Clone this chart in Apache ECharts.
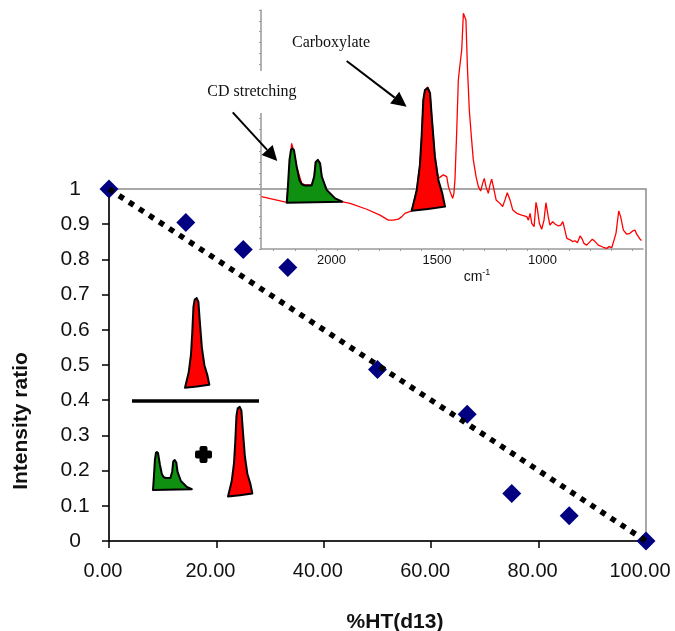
<!DOCTYPE html>
<html>
<head>
<meta charset="utf-8">
<script src="https://cdn.jsdelivr.net/npm/echarts@6/dist/echarts.min.js"></script>
<style>
  html, body { margin: 0; padding: 0; background: #fff; }
  #chart { width: 675px; height: 631px; }
</style>
</head>
<body>
<div id="chart"></div>
<script>
// ---- Main panel: intensity ratio vs %HT(d13) ----
const htPercent      = [0, 14.3, 25, 33.3, 50, 66.7, 75, 85.7, 100];
const intensityRatio = [1, 0.905, 0.828, 0.777, 0.487, 0.36, 0.135, 0.072, 0];
const trendX = [0, 100];
const trendY = [1, 0];
const mainXTicks = [0, 20, 40, 60, 80, 100];
const mainYTicks = [0, 0.1, 0.2, 0.3, 0.4, 0.5, 0.6, 0.7, 0.8, 0.9, 1];

// ---- Inset: IR spectrum (wavenumber in cm-1, absorbance in arbitrary units) ----
const specWn = [2358, 2238, 2227, 2215, 2206, 2191, 2167, 2152, 2120, 2108, 2101, 2091, 2080, 2072, 2049, 2009,
  1978, 1938, 1859, 1796, 1757, 1733, 1709, 1693, 1678, 1646, 1622, 1607, 1599, 1591, 1583, 1570, 1559, 1551,
  1536, 1520, 1512, 1496, 1480, 1472, 1464, 1452, 1446, 1441, 1433, 1425, 1420, 1414, 1409, 1401, 1397, 1389,
  1382, 1373, 1362, 1354, 1341, 1330, 1319, 1310, 1302, 1294, 1283, 1275, 1267, 1259, 1246, 1228, 1215, 1204,
  1193, 1180, 1167, 1148, 1125, 1101, 1093, 1085, 1077, 1066, 1057, 1051, 1041, 1030, 1019, 1010, 999, 991,
  978, 967, 951, 940, 930, 924, 911, 893, 883, 872, 861, 848, 840, 830, 817, 801, 790, 777, 762, 738, 722,
  710, 698, 691, 678, 665, 656, 643, 627, 612, 599, 588, 580, 564, 557];
const specAbs = [0.241, 0.215, 0.341, 0.486, 0.456, 0.379, 0.302, 0.295, 0.295, 0.333, 0.402, 0.410, 0.394, 0.333, 0.272, 0.233,
  0.218, 0.210, 0.183, 0.156, 0.133, 0.133, 0.137, 0.149, 0.164, 0.175, 0.272, 0.387, 0.517, 0.686, 0.732, 0.746, 0.717, 0.609,
  0.425, 0.325, 0.325, 0.341, 0.333, 0.287, 0.264, 0.233, 0.256, 0.318, 0.532, 0.778, 0.824, 0.819, 0.916, 1.085, 1.092, 1.054,
  0.839, 0.640, 0.502, 0.410, 0.333, 0.287, 0.267, 0.302, 0.325, 0.287, 0.256, 0.295, 0.321, 0.287, 0.226, 0.210, 0.195, 0.226,
  0.259, 0.226, 0.179, 0.164, 0.156, 0.149, 0.133, 0.164, 0.118, 0.103, 0.215, 0.187, 0.118, 0.091, 0.133, 0.213, 0.149, 0.110,
  0.126, 0.115, 0.106, 0.110, 0.126, 0.103, 0.049, 0.041, 0.034, 0.038, 0.029, 0.060, 0.049, 0.026, 0.018, 0.034, 0.045, 0.034,
  0.018, 0.008, 0.003, 0.011, 0.006, 0.014, 0.072, 0.175, 0.149, 0.087, 0.068, 0.072, 0.083, 0.087, 0.068, 0.045, 0.039];

// C-D stretching band outline (green)
const cdBandWn  = [2238, 2232, 2225, 2218, 2212, 2204, 2191, 2178, 2167, 2152, 2120, 2108, 2101, 2091, 2080, 2072, 2049, 2009, 1975];
const cdBandAbs = [0.213, 0.295, 0.410, 0.456, 0.463, 0.456, 0.379, 0.318, 0.298, 0.292, 0.292, 0.333, 0.400, 0.410, 0.394, 0.333, 0.272, 0.233, 0.218];
// Carboxylate band outline (red)
const coBandWn  = [1646, 1622, 1607, 1599, 1591, 1583, 1570, 1559, 1551, 1536, 1520, 1501, 1488, 1569];
const coBandAbs = [0.176, 0.272, 0.387, 0.517, 0.686, 0.732, 0.741, 0.717, 0.609, 0.425, 0.318, 0.256, 0.195, 0.184];

const insetLabelWn = [2000, 1500, 1000];
const insetTickWn  = [600, 700, 800, 900, 1000, 1100, 1200, 1300, 1400, 1500, 1600, 1700, 1800, 1900, 2000, 2100, 2200, 2300];

const SANS = "'Liberation Sans', Arial, Helvetica, sans-serif";
const SERIF = "'Liberation Serif', 'Times New Roman', serif";

const bands = [
  { wn: cdBandWn, abs: cdBandAbs, fill: '#109010' },
  { wn: coBandWn, abs: coBandAbs, fill: '#ff0000' }
];

const chart = echarts.init(document.getElementById('chart'), null, { renderer: 'canvas' });

const option = {
  backgroundColor: '#ffffff',
  animation: false,
  grid: [
    { left: 109, right: 29, top: 189, bottom: 90, outerBoundsMode: 'none', containLabel: false,
      show: true, borderColor: '#8c8c8c', borderWidth: 1.5, backgroundColor: 'transparent' },
    { left: 261, right: 32, top: 10, bottom: 382, outerBoundsMode: 'none', containLabel: false, show: false }
  ],
  xAxis: [
    {
      type: 'value', gridIndex: 0, min: 0, max: 100, interval: 20,
      axisLine: { show: true, onZero: false, lineStyle: { color: '#000', width: 1.5 } },
      axisTick: { show: true, length: 7, lineStyle: { color: '#000', width: 1.5 } },
      axisLabel: { fontFamily: SANS, fontSize: 20, color: '#111', margin: 20, padding: [0, 12, 0, 0],
        formatter: v => v.toFixed(2) },
      splitLine: { show: false },
      name: '%HT(d13)', nameLocation: 'middle', nameGap: 71,
      nameTextStyle: { fontFamily: SANS, fontSize: 21, fontWeight: 'bold', color: '#111', padding: [0, 0, 0, 35] }
    },
    {
      type: 'value', gridIndex: 1, inverse: true, min: 550, max: 2360,
      axisLine: { show: true, onZero: false, lineStyle: { color: '#9a9a9a', width: 1.5 } },
      axisTick: { show: true, length: 2, customValues: insetTickWn, lineStyle: { color: '#9a9a9a', width: 1 } },
      axisLabel: { fontFamily: SANS, fontSize: 13, color: '#111', margin: 5, padding: [0, 11, 0, 0],
        customValues: insetLabelWn, formatter: v => String(v) },
      splitLine: { show: false },
      name: '{a|cm}{b|-1}', nameLocation: 'middle', nameGap: 17,
      nameTextStyle: {
        padding: [0, 0, 0, 50],
        rich: {
          a: { fontFamily: SANS, fontSize: 14, color: '#111', verticalAlign: 'bottom', lineHeight: 16 },
          b: { fontFamily: SANS, fontSize: 9, color: '#111', verticalAlign: 'top', lineHeight: 16 }
        }
      }
    }
  ],
  yAxis: [
    {
      type: 'value', gridIndex: 0, min: 0, max: 1, interval: 0.1,
      axisLine: { show: true, onZero: false, lineStyle: { color: '#000', width: 1.5 } },
      axisTick: { show: true, length: 7, lineStyle: { color: '#000', width: 1.5 } },
      axisLabel: { fontFamily: SANS, fontSize: 21, color: '#111', margin: 34, align: 'center',
        formatter: v => String(Math.round(v * 10) / 10) },
      splitLine: { show: false },
      name: 'Intensity ratio', nameLocation: 'middle', nameGap: 77,
      nameTextStyle: { fontFamily: SANS, fontSize: 21, fontWeight: 'bold', color: '#111', padding: [0, 112, 0, 0] }
    },
    {
      type: 'value', gridIndex: 1, min: 0, max: 1.1, interval: 0.05,
      axisLine: { show: true, onZero: false, lineStyle: { color: '#9a9a9a', width: 1.5 } },
      axisTick: { show: true, length: 2, lineStyle: { color: '#9a9a9a', width: 1 } },
      axisLabel: { show: false },
      splitLine: { show: false }
    }
  ],
  series: [
    {
      name: 'Intensity ratio', type: 'scatter', xAxisIndex: 0, yAxisIndex: 0, z: 3,
      symbol: 'diamond', symbolSize: 19,
      itemStyle: { color: '#000080', opacity: 1 },
      data: htPercent.map((x, i) => [x, intensityRatio[i]])
    },
    {
      name: 'Trend', type: 'line', xAxisIndex: 0, yAxisIndex: 0, z: 4,
      symbol: 'none', silent: true,
      lineStyle: { color: '#000', width: 5.5, type: [5.5, 6.5] },
      data: trendX.map((x, i) => [x, trendY[i]])
    },
    {
      name: 'Spectrum', type: 'line', xAxisIndex: 1, yAxisIndex: 1, z: 6,
      symbol: 'none', smooth: false,
      lineStyle: { color: '#ff0000', width: 1.3 },
      data: specWn.map((w, i) => [w, specAbs[i]])
    },
    {
      name: 'Bands', type: 'custom', xAxisIndex: 1, yAxisIndex: 1, z: 7, clip: false,
      data: bands.map(b => [b.wn[0], b.abs[0]]),
      renderItem: (params, api) => {
        const b = bands[params.dataIndex];
        const pts = b.wn.map((w, i) => api.coord([w, b.abs[i]]));
        return {
          type: 'polygon',
          shape: { points: pts },
          style: { fill: b.fill, stroke: '#000', lineWidth: 2, lineJoin: 'round' }
        };
      }
    }
  ]
};

chart.setOption(option);

// ---- Annotations placed in axis units, converted to pixels ----
const toInset = p => chart.convertToPixel({ gridIndex: 1 }, p);
const toMain = p => chart.convertToPixel({ gridIndex: 0 }, p);

function arrow(from, to) {
  const s = toInset(from), t = toInset(to);
  const dx = t[0] - s[0], dy = t[1] - s[1];
  const len = Math.hypot(dx, dy);
  const ux = dx / len, uy = dy / len;
  const headLen = 15, headHalf = 7.5;
  const bx = t[0] - ux * headLen, by = t[1] - uy * headLen;
  return [
    { type: 'line', z: 20, shape: { x1: s[0], y1: s[1], x2: bx, y2: by }, style: { stroke: '#000', lineWidth: 2 } },
    { type: 'polygon', z: 20, shape: { points: [[t[0], t[1]], [bx - uy * headHalf, by + ux * headHalf], [bx + uy * headHalf, by - ux * headHalf]] },
      style: { fill: '#000' } }
  ];
}

function glyph(band, anchor, scale) {
  const pts = band.wn.map((w, i) => toInset([w, band.abs[i]]));
  const minX = Math.min(...pts.map(p => p[0]));
  const minY = Math.min(...pts.map(p => p[1]));
  const local = pts.map(p => [p[0] - minX, p[1] - minY]);
  const pos = toMain(anchor);
  return {
    type: 'polygon', z: 20, x: pos[0], y: pos[1], scaleX: scale, scaleY: scale,
    shape: { points: local },
    style: { fill: band.fill, stroke: '#000', lineWidth: 2, strokeNoScale: true, lineJoin: 'round' }
  };
}

function label(text, at) {
  const p = toInset(at);
  return {
    type: 'text', z: 15, x: p[0], y: p[1],
    style: { text, font: '16px ' + SERIF, fill: '#111', align: 'center', verticalAlign: 'middle',
      backgroundColor: '#fff', padding: [13, 6] }
  };
}

const barL = toMain([4.28, 0.398]), barR = toMain([27.93, 0.398]);
const plusC = toMain([17.6, 0.246]);

chart.setOption({
  graphic: [
    label('Carboxylate', [2028, 0.948]),
    label('CD stretching', [2403, 0.723]),
    ...arrow([1954, 0.865], [1670, 0.655]),
    ...arrow([2494, 0.629], [2283, 0.405]),
    glyph(bands[1], [14.15, 0.690], 0.73),
    glyph(bands[0], [8.19, 0.253], 0.70),
    glyph(bands[1], [22.16, 0.381], 0.73),
    { type: 'line', z: 20, shape: { x1: barL[0], y1: barL[1], x2: barR[0], y2: barR[1] }, style: { stroke: '#000', lineWidth: 3.5 } },
    { type: 'rect', z: 20, shape: { x: plusC[0] - 8.5, y: plusC[1] - 4, width: 17, height: 8, r: 2 }, style: { fill: '#000' } },
    { type: 'rect', z: 20, shape: { x: plusC[0] - 4, y: plusC[1] - 8.5, width: 8, height: 17, r: 2 }, style: { fill: '#000' } }
  ]
});
</script>
</body>
</html>
